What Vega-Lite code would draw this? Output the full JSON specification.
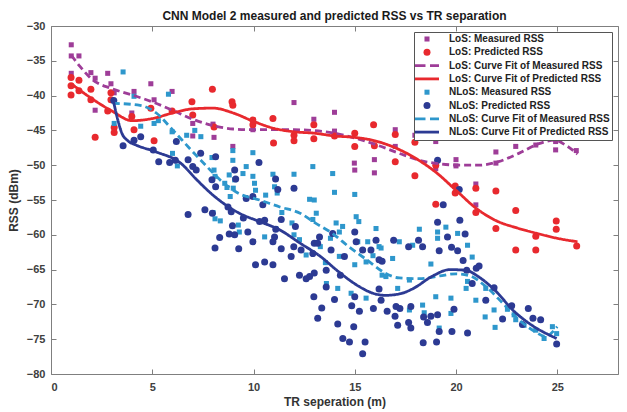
{
  "$schema": "https://vega.github.io/schema/vega-lite/v6.json",
  "width": 567,
  "height": 348,
  "autosize": {"type": "none"},
  "padding": {"left": 51, "top": 26, "right": 9, "bottom": 38},
  "background": "white",
  "title": {"text": "CNN Model 2 measured and predicted RSS vs TR separation", "font": "Liberation Sans", "fontSize": 12, "fontWeight": "bold", "color": "#1a1a1a", "offset": -3, "anchor": "middle"},
  "config": {
    "view": {"stroke": null},
    "axis": {"grid": false, "domainColor": "#7f7f7f", "tickColor": "#7f7f7f", "domainWidth": 1, "tickWidth": 1, "labelFont": "Liberation Sans", "labelFontSize": 11, "labelFontWeight": "bold", "labelColor": "#404040", "titleFont": "Liberation Sans", "titleFontSize": 12, "titleFontWeight": "bold", "titleColor": "#333333"}
  },
  "datasets": {
    "pts": [
      {"s":"LoS: Measured RSS","x":1.0,"y":-32.7},{"s":"LoS: Measured RSS","x":1.0,"y":-34.3},{"s":"LoS: Measured RSS","x":1.38,"y":-34.3},{"s":"LoS: Measured RSS","x":1.0,"y":-36.8},{"s":"LoS: Measured RSS","x":1.97,"y":-36.7},{"s":"LoS: Measured RSS","x":2.8,"y":-36.8},{"s":"LoS: Measured RSS","x":2.18,"y":-37.5},{"s":"LoS: Measured RSS","x":2.96,"y":-38.3},{"s":"LoS: Measured RSS","x":3.12,"y":-39.6},{"s":"LoS: Measured RSS","x":2.18,"y":-42.1},{"s":"LoS: Measured RSS","x":4.1,"y":-39.4},{"s":"LoS: Measured RSS","x":4.93,"y":-38.3},{"s":"LoS: Measured RSS","x":5.98,"y":-39.4},{"s":"LoS: Measured RSS","x":5.09,"y":-40.6},{"s":"LoS: Measured RSS","x":3.99,"y":-42.5},{"s":"LoS: Measured RSS","x":7.0,"y":-44.0},{"s":"LoS: Measured RSS","x":7.0,"y":-45.8},{"s":"LoS: Measured RSS","x":8.0,"y":-44.1},{"s":"LoS: Measured RSS","x":8.05,"y":-46.0},{"s":"LoS: Measured RSS","x":8.98,"y":-47.3},{"s":"LoS: Measured RSS","x":9.97,"y":-44.9},{"s":"LoS: Measured RSS","x":12.0,"y":-41.0},{"s":"LoS: Measured RSS","x":12.98,"y":-43.4},{"s":"LoS: Measured RSS","x":14.0,"y":-42.4},{"s":"LoS: Measured RSS","x":14.0,"y":-45.1},{"s":"LoS: Measured RSS","x":14.98,"y":-49.7},{"s":"LoS: Measured RSS","x":15.0,"y":-50.7},{"s":"LoS: Measured RSS","x":15.97,"y":-49.2},{"s":"LoS: Measured RSS","x":15.97,"y":-51.1},{"s":"LoS: Measured RSS","x":17.0,"y":-44.9},{"s":"LoS: Measured RSS","x":17.0,"y":-47.3},{"s":"LoS: Measured RSS","x":17.97,"y":-45.7},{"s":"LoS: Measured RSS","x":19.0,"y":-46.6},{"s":"LoS: Measured RSS","x":19.0,"y":-50.5},{"s":"LoS: Measured RSS","x":20.0,"y":-49.2},{"s":"LoS: Measured RSS","x":20.0,"y":-50.1},{"s":"LoS: Measured RSS","x":20.98,"y":-52.7},{"s":"LoS: Measured RSS","x":20.98,"y":-55.7},{"s":"LoS: Measured RSS","x":21.97,"y":-48.1},{"s":"LoS: Measured RSS","x":21.97,"y":-49.7},{"s":"LoS: Measured RSS","x":22.95,"y":-47.3},{"s":"LoS: Measured RSS","x":23.94,"y":-47.1},{"s":"LoS: Measured RSS","x":24.92,"y":-46.6},{"s":"LoS: Measured RSS","x":24.92,"y":-47.8},{"s":"LoS: Measured RSS","x":25.94,"y":-47.9},
      {"s":"LoS: Predicted RSS","x":0.99,"y":-37.4},{"s":"LoS: Predicted RSS","x":0.99,"y":-38.6},{"s":"LoS: Predicted RSS","x":0.99,"y":-39.9},{"s":"LoS: Predicted RSS","x":1.38,"y":-37.8},{"s":"LoS: Predicted RSS","x":1.38,"y":-39.3},{"s":"LoS: Predicted RSS","x":1.97,"y":-39.1},{"s":"LoS: Predicted RSS","x":1.97,"y":-40.6},{"s":"LoS: Predicted RSS","x":2.18,"y":-46.0},{"s":"LoS: Predicted RSS","x":2.96,"y":-39.6},{"s":"LoS: Predicted RSS","x":2.96,"y":-40.6},{"s":"LoS: Predicted RSS","x":2.8,"y":-42.2},{"s":"LoS: Predicted RSS","x":3.12,"y":-44.6},{"s":"LoS: Predicted RSS","x":3.12,"y":-45.3},{"s":"LoS: Predicted RSS","x":3.99,"y":-43.0},{"s":"LoS: Predicted RSS","x":4.1,"y":-44.9},{"s":"LoS: Predicted RSS","x":4.93,"y":-41.8},{"s":"LoS: Predicted RSS","x":5.09,"y":-46.5},{"s":"LoS: Predicted RSS","x":5.98,"y":-42.2},{"s":"LoS: Predicted RSS","x":6.96,"y":-40.9},{"s":"LoS: Predicted RSS","x":7.0,"y":-42.8},{"s":"LoS: Predicted RSS","x":7.97,"y":-39.1},{"s":"LoS: Predicted RSS","x":8.05,"y":-44.5},{"s":"LoS: Predicted RSS","x":8.94,"y":-40.9},{"s":"LoS: Predicted RSS","x":8.98,"y":-41.4},{"s":"LoS: Predicted RSS","x":9.97,"y":-43.5},{"s":"LoS: Predicted RSS","x":9.97,"y":-44.2},{"s":"LoS: Predicted RSS","x":10.96,"y":-43.3},{"s":"LoS: Predicted RSS","x":10.99,"y":-46.8},{"s":"LoS: Predicted RSS","x":12.0,"y":-45.7},{"s":"LoS: Predicted RSS","x":12.0,"y":-46.5},{"s":"LoS: Predicted RSS","x":12.98,"y":-44.2},{"s":"LoS: Predicted RSS","x":12.98,"y":-46.2},{"s":"LoS: Predicted RSS","x":14.0,"y":-45.8},{"s":"LoS: Predicted RSS","x":15.0,"y":-45.4},{"s":"LoS: Predicted RSS","x":15.0,"y":-47.3},{"s":"LoS: Predicted RSS","x":15.93,"y":-44.2},{"s":"LoS: Predicted RSS","x":15.97,"y":-47.2},{"s":"LoS: Predicted RSS","x":17.0,"y":-45.6},{"s":"LoS: Predicted RSS","x":17.0,"y":-49.5},{"s":"LoS: Predicted RSS","x":17.97,"y":-46.7},{"s":"LoS: Predicted RSS","x":17.97,"y":-51.5},{"s":"LoS: Predicted RSS","x":19.0,"y":-50.0},{"s":"LoS: Predicted RSS","x":19.0,"y":-55.6},{"s":"LoS: Predicted RSS","x":19.96,"y":-53.0},{"s":"LoS: Predicted RSS","x":19.96,"y":-54.0},{"s":"LoS: Predicted RSS","x":20.98,"y":-53.3},{"s":"LoS: Predicted RSS","x":20.98,"y":-56.8},{"s":"LoS: Predicted RSS","x":21.97,"y":-53.7},{"s":"LoS: Predicted RSS","x":21.97,"y":-59.1},{"s":"LoS: Predicted RSS","x":22.95,"y":-56.5},{"s":"LoS: Predicted RSS","x":22.95,"y":-62.2},{"s":"LoS: Predicted RSS","x":23.94,"y":-60.2},{"s":"LoS: Predicted RSS","x":23.94,"y":-62.2},{"s":"LoS: Predicted RSS","x":24.95,"y":-58.0},{"s":"LoS: Predicted RSS","x":24.95,"y":-59.2},{"s":"LoS: Predicted RSS","x":25.96,"y":-61.6},
      {"s":"NLoS: Measured RSS","x":3.56,"y":-36.6},{"s":"NLoS: Measured RSS","x":4.1,"y":-40.1},{"s":"NLoS: Measured RSS","x":3.12,"y":-44.0},{"s":"NLoS: Measured RSS","x":4.43,"y":-44.4},{"s":"NLoS: Measured RSS","x":5.09,"y":-44.0},{"s":"NLoS: Measured RSS","x":5.3,"y":-43.6},{"s":"NLoS: Measured RSS","x":5.8,"y":-39.8},{"s":"NLoS: Measured RSS","x":5.98,"y":-45.2},{"s":"NLoS: Measured RSS","x":6.7,"y":-45.7},{"s":"NLoS: Measured RSS","x":7.1,"y":-45.0},{"s":"NLoS: Measured RSS","x":7.4,"y":-45.9},{"s":"NLoS: Measured RSS","x":6.0,"y":-48.3},{"s":"NLoS: Measured RSS","x":6.24,"y":-50.1},{"s":"NLoS: Measured RSS","x":7.95,"y":-48.9},{"s":"NLoS: Measured RSS","x":8.05,"y":-50.7},{"s":"NLoS: Measured RSS","x":8.98,"y":-49.3},{"s":"NLoS: Measured RSS","x":8.1,"y":-51.6},{"s":"NLoS: Measured RSS","x":8.8,"y":-51.4},{"s":"NLoS: Measured RSS","x":9.07,"y":-52.1},{"s":"NLoS: Measured RSS","x":8.69,"y":-53.2},{"s":"NLoS: Measured RSS","x":9.0,"y":-53.3},{"s":"NLoS: Measured RSS","x":8.85,"y":-54.5},{"s":"NLoS: Measured RSS","x":8.98,"y":-47.9},{"s":"NLoS: Measured RSS","x":9.97,"y":-48.2},{"s":"NLoS: Measured RSS","x":9.64,"y":-50.2},{"s":"NLoS: Measured RSS","x":9.48,"y":-51.2},{"s":"NLoS: Measured RSS","x":9.97,"y":-51.6},{"s":"NLoS: Measured RSS","x":10.05,"y":-52.6},{"s":"NLoS: Measured RSS","x":10.96,"y":-51.3},{"s":"NLoS: Measured RSS","x":11.04,"y":-53.1},{"s":"NLoS: Measured RSS","x":12.0,"y":-51.3},{"s":"NLoS: Measured RSS","x":12.93,"y":-50.2},{"s":"NLoS: Measured RSS","x":13.91,"y":-51.2},{"s":"NLoS: Measured RSS","x":14.0,"y":-53.9},{"s":"NLoS: Measured RSS","x":15.0,"y":-54.2},{"s":"NLoS: Measured RSS","x":8.58,"y":-52.6},{"s":"NLoS: Measured RSS","x":8.0,"y":-56.8},{"s":"NLoS: Measured RSS","x":8.1,"y":-57.7},{"s":"NLoS: Measured RSS","x":8.36,"y":-58.0},{"s":"NLoS: Measured RSS","x":9.25,"y":-58.6},{"s":"NLoS: Measured RSS","x":10.1,"y":-53.6},{"s":"NLoS: Measured RSS","x":10.6,"y":-54.3},{"s":"NLoS: Measured RSS","x":11.17,"y":-54.0},{"s":"NLoS: Measured RSS","x":9.3,"y":-59.6},{"s":"NLoS: Measured RSS","x":9.5,"y":-57.6},{"s":"NLoS: Measured RSS","x":10.55,"y":-60.3},{"s":"NLoS: Measured RSS","x":11.1,"y":-59.1},{"s":"NLoS: Measured RSS","x":11.4,"y":-56.8},{"s":"NLoS: Measured RSS","x":11.9,"y":-58.3},{"s":"NLoS: Measured RSS","x":12.27,"y":-60.7},{"s":"NLoS: Measured RSS","x":12.0,"y":-60.0},{"s":"NLoS: Measured RSS","x":12.6,"y":-62.9},{"s":"NLoS: Measured RSS","x":12.77,"y":-54.9},{"s":"NLoS: Measured RSS","x":13.0,"y":-55.0},{"s":"NLoS: Measured RSS","x":13.1,"y":-56.9},{"s":"NLoS: Measured RSS","x":12.93,"y":-57.8},{"s":"NLoS: Measured RSS","x":13.3,"y":-61.7},{"s":"NLoS: Measured RSS","x":13.55,"y":-64.0},{"s":"NLoS: Measured RSS","x":13.6,"y":-67.0},{"s":"NLoS: Measured RSS","x":14.08,"y":-58.3},{"s":"NLoS: Measured RSS","x":14.24,"y":-59.6},{"s":"NLoS: Measured RSS","x":14.4,"y":-58.8},{"s":"NLoS: Measured RSS","x":15.07,"y":-57.4},{"s":"NLoS: Measured RSS","x":15.2,"y":-58.1},{"s":"NLoS: Measured RSS","x":13.8,"y":-60.5},{"s":"NLoS: Measured RSS","x":14.24,"y":-63.1},{"s":"NLoS: Measured RSS","x":15.0,"y":-64.3},{"s":"NLoS: Measured RSS","x":15.15,"y":-61.0},{"s":"NLoS: Measured RSS","x":15.56,"y":-63.9},{"s":"NLoS: Measured RSS","x":15.64,"y":-61.0},{"s":"NLoS: Measured RSS","x":16.05,"y":-59.1},{"s":"NLoS: Measured RSS","x":16.3,"y":-61.9},{"s":"NLoS: Measured RSS","x":16.35,"y":-65.8},{"s":"NLoS: Measured RSS","x":15.9,"y":-63.0},{"s":"NLoS: Measured RSS","x":16.87,"y":-63.4},{"s":"NLoS: Measured RSS","x":16.54,"y":-66.0},{"s":"NLoS: Measured RSS","x":14.16,"y":-67.7},{"s":"NLoS: Measured RSS","x":14.82,"y":-68.4},{"s":"NLoS: Measured RSS","x":15.56,"y":-69.1},{"s":"NLoS: Measured RSS","x":17.2,"y":-61.0},{"s":"NLoS: Measured RSS","x":18.19,"y":-59.2},{"s":"NLoS: Measured RSS","x":19.09,"y":-59.6},{"s":"NLoS: Measured RSS","x":19.5,"y":-58.9},{"s":"NLoS: Measured RSS","x":19.09,"y":-60.5},{"s":"NLoS: Measured RSS","x":20.08,"y":-59.8},{"s":"NLoS: Measured RSS","x":20.57,"y":-61.5},{"s":"NLoS: Measured RSS","x":17.86,"y":-61.5},{"s":"NLoS: Measured RSS","x":18.76,"y":-64.2},{"s":"NLoS: Measured RSS","x":20.8,"y":-63.2},{"s":"NLoS: Measured RSS","x":16.2,"y":-61.7},{"s":"NLoS: Measured RSS","x":17.12,"y":-67.7},{"s":"NLoS: Measured RSS","x":17.7,"y":-66.5},{"s":"NLoS: Measured RSS","x":17.7,"y":-70.8},{"s":"NLoS: Measured RSS","x":18.35,"y":-70.1},{"s":"NLoS: Measured RSS","x":18.43,"y":-71.2},{"s":"NLoS: Measured RSS","x":19.0,"y":-68.9},{"s":"NLoS: Measured RSS","x":19.75,"y":-69.1},{"s":"NLoS: Measured RSS","x":19.75,"y":-71.3},{"s":"NLoS: Measured RSS","x":19.17,"y":-73.4},{"s":"NLoS: Measured RSS","x":20.57,"y":-66.7},{"s":"NLoS: Measured RSS","x":20.5,"y":-67.7},{"s":"NLoS: Measured RSS","x":20.98,"y":-69.4},{"s":"NLoS: Measured RSS","x":21.44,"y":-71.8},{"s":"NLoS: Measured RSS","x":21.93,"y":-73.3},{"s":"NLoS: Measured RSS","x":21.88,"y":-70.8},{"s":"NLoS: Measured RSS","x":22.54,"y":-70.7},{"s":"NLoS: Measured RSS","x":22.87,"y":-71.5},{"s":"NLoS: Measured RSS","x":22.95,"y":-72.2},{"s":"NLoS: Measured RSS","x":23.36,"y":-73.0},{"s":"NLoS: Measured RSS","x":23.94,"y":-73.7},{"s":"NLoS: Measured RSS","x":24.35,"y":-74.9},{"s":"NLoS: Measured RSS","x":24.76,"y":-73.2},{"s":"NLoS: Measured RSS","x":24.97,"y":-74.2},{"s":"NLoS: Measured RSS","x":21.47,"y":-67.7},
      {"s":"NLoS: Predicted RSS","x":3.1,"y":-40.7},{"s":"NLoS: Predicted RSS","x":3.56,"y":-47.2},{"s":"NLoS: Predicted RSS","x":4.1,"y":-46.4},{"s":"NLoS: Predicted RSS","x":4.43,"y":-45.9},{"s":"NLoS: Predicted RSS","x":5.05,"y":-47.8},{"s":"NLoS: Predicted RSS","x":5.32,"y":-49.5},{"s":"NLoS: Predicted RSS","x":5.86,"y":-49.6},{"s":"NLoS: Predicted RSS","x":6.19,"y":-46.6},{"s":"NLoS: Predicted RSS","x":6.14,"y":-49.3},{"s":"NLoS: Predicted RSS","x":6.77,"y":-49.2},{"s":"NLoS: Predicted RSS","x":7.0,"y":-50.2},{"s":"NLoS: Predicted RSS","x":7.39,"y":-48.3},{"s":"NLoS: Predicted RSS","x":7.17,"y":-50.7},{"s":"NLoS: Predicted RSS","x":7.95,"y":-52.1},{"s":"NLoS: Predicted RSS","x":8.13,"y":-48.8},{"s":"NLoS: Predicted RSS","x":8.13,"y":-53.1},{"s":"NLoS: Predicted RSS","x":9.07,"y":-50.7},{"s":"NLoS: Predicted RSS","x":9.12,"y":-52.0},{"s":"NLoS: Predicted RSS","x":10.27,"y":-49.6},{"s":"NLoS: Predicted RSS","x":11.09,"y":-52.0},{"s":"NLoS: Predicted RSS","x":11.2,"y":-53.5},{"s":"NLoS: Predicted RSS","x":12.0,"y":-53.3},{"s":"NLoS: Predicted RSS","x":6.77,"y":-57.1},{"s":"NLoS: Predicted RSS","x":7.6,"y":-56.4},{"s":"NLoS: Predicted RSS","x":7.97,"y":-56.9},{"s":"NLoS: Predicted RSS","x":8.33,"y":-60.4},{"s":"NLoS: Predicted RSS","x":8.1,"y":-61.9},{"s":"NLoS: Predicted RSS","x":8.8,"y":-59.9},{"s":"NLoS: Predicted RSS","x":9.07,"y":-60.0},{"s":"NLoS: Predicted RSS","x":8.96,"y":-58.7},{"s":"NLoS: Predicted RSS","x":8.74,"y":-56.0},{"s":"NLoS: Predicted RSS","x":8.9,"y":-56.7},{"s":"NLoS: Predicted RSS","x":9.27,"y":-62.0},{"s":"NLoS: Predicted RSS","x":9.5,"y":-57.6},{"s":"NLoS: Predicted RSS","x":9.64,"y":-54.8},{"s":"NLoS: Predicted RSS","x":9.72,"y":-59.6},{"s":"NLoS: Predicted RSS","x":9.97,"y":-61.0},{"s":"NLoS: Predicted RSS","x":10.1,"y":-64.3},{"s":"NLoS: Predicted RSS","x":9.97,"y":-54.5},{"s":"NLoS: Predicted RSS","x":10.3,"y":-58.1},{"s":"NLoS: Predicted RSS","x":10.55,"y":-57.9},{"s":"NLoS: Predicted RSS","x":10.46,"y":-55.7},{"s":"NLoS: Predicted RSS","x":10.55,"y":-63.9},{"s":"NLoS: Predicted RSS","x":10.96,"y":-64.3},{"s":"NLoS: Predicted RSS","x":10.96,"y":-61.0},{"s":"NLoS: Predicted RSS","x":11.04,"y":-60.3},{"s":"NLoS: Predicted RSS","x":11.1,"y":-59.2},{"s":"NLoS: Predicted RSS","x":11.37,"y":-57.8},{"s":"NLoS: Predicted RSS","x":11.37,"y":-62.0},{"s":"NLoS: Predicted RSS","x":11.53,"y":-66.3},{"s":"NLoS: Predicted RSS","x":11.86,"y":-63.1},{"s":"NLoS: Predicted RSS","x":11.99,"y":-61.7},{"s":"NLoS: Predicted RSS","x":12.07,"y":-58.8},{"s":"NLoS: Predicted RSS","x":12.27,"y":-65.8},{"s":"NLoS: Predicted RSS","x":12.35,"y":-62.2},{"s":"NLoS: Predicted RSS","x":12.6,"y":-66.3},{"s":"NLoS: Predicted RSS","x":12.77,"y":-66.0},{"s":"NLoS: Predicted RSS","x":13.0,"y":-65.5},{"s":"NLoS: Predicted RSS","x":13.0,"y":-61.2},{"s":"NLoS: Predicted RSS","x":13.17,"y":-61.2},{"s":"NLoS: Predicted RSS","x":12.93,"y":-62.7},{"s":"NLoS: Predicted RSS","x":13.26,"y":-60.3},{"s":"NLoS: Predicted RSS","x":12.98,"y":-68.9},{"s":"NLoS: Predicted RSS","x":13.17,"y":-72.0},{"s":"NLoS: Predicted RSS","x":13.37,"y":-70.5},{"s":"NLoS: Predicted RSS","x":13.59,"y":-65.1},{"s":"NLoS: Predicted RSS","x":13.59,"y":-67.5},{"s":"NLoS: Predicted RSS","x":13.83,"y":-62.2},{"s":"NLoS: Predicted RSS","x":13.91,"y":-59.8},{"s":"NLoS: Predicted RSS","x":14.0,"y":-69.3},{"s":"NLoS: Predicted RSS","x":14.16,"y":-72.8},{"s":"NLoS: Predicted RSS","x":14.29,"y":-65.8},{"s":"NLoS: Predicted RSS","x":14.41,"y":-74.9},{"s":"NLoS: Predicted RSS","x":14.49,"y":-63.1},{"s":"NLoS: Predicted RSS","x":14.74,"y":-75.4},{"s":"NLoS: Predicted RSS","x":14.85,"y":-70.2},{"s":"NLoS: Predicted RSS","x":14.95,"y":-73.2},{"s":"NLoS: Predicted RSS","x":15.0,"y":-68.9},{"s":"NLoS: Predicted RSS","x":15.0,"y":-59.6},{"s":"NLoS: Predicted RSS","x":15.07,"y":-61.0},{"s":"NLoS: Predicted RSS","x":15.23,"y":-71.0},{"s":"NLoS: Predicted RSS","x":15.39,"y":-77.1},{"s":"NLoS: Predicted RSS","x":15.51,"y":-75.4},{"s":"NLoS: Predicted RSS","x":15.39,"y":-62.2},{"s":"NLoS: Predicted RSS","x":15.8,"y":-62.2},{"s":"NLoS: Predicted RSS","x":15.92,"y":-70.6},{"s":"NLoS: Predicted RSS","x":16.05,"y":-60.8},{"s":"NLoS: Predicted RSS","x":16.2,"y":-67.8},{"s":"NLoS: Predicted RSS","x":16.35,"y":-63.8},{"s":"NLoS: Predicted RSS","x":16.3,"y":-69.4},{"s":"NLoS: Predicted RSS","x":16.6,"y":-71.0},{"s":"NLoS: Predicted RSS","x":16.92,"y":-60.8},{"s":"NLoS: Predicted RSS","x":16.99,"y":-71.7},{"s":"NLoS: Predicted RSS","x":17.12,"y":-73.0},{"s":"NLoS: Predicted RSS","x":17.04,"y":-70.3},{"s":"NLoS: Predicted RSS","x":17.66,"y":-61.7},{"s":"NLoS: Predicted RSS","x":18.15,"y":-60.8},{"s":"NLoS: Predicted RSS","x":18.35,"y":-61.7},{"s":"NLoS: Predicted RSS","x":19.09,"y":-58.2},{"s":"NLoS: Predicted RSS","x":20.19,"y":-57.9},{"s":"NLoS: Predicted RSS","x":19.58,"y":-60.3},{"s":"NLoS: Predicted RSS","x":20.45,"y":-59.9},{"s":"NLoS: Predicted RSS","x":19.17,"y":-62.3},{"s":"NLoS: Predicted RSS","x":19.78,"y":-61.8},{"s":"NLoS: Predicted RSS","x":20.08,"y":-62.3},{"s":"NLoS: Predicted RSS","x":20.35,"y":-63.7},{"s":"NLoS: Predicted RSS","x":21.0,"y":-64.8},{"s":"NLoS: Predicted RSS","x":21.14,"y":-64.5},{"s":"NLoS: Predicted RSS","x":20.53,"y":-65.1},{"s":"NLoS: Predicted RSS","x":20.8,"y":-67.0},{"s":"NLoS: Predicted RSS","x":21.88,"y":-67.6},{"s":"NLoS: Predicted RSS","x":21.47,"y":-69.4},{"s":"NLoS: Predicted RSS","x":16.2,"y":-63.6},{"s":"NLoS: Predicted RSS","x":17.23,"y":-70.6},{"s":"NLoS: Predicted RSS","x":17.77,"y":-70.3},{"s":"NLoS: Predicted RSS","x":17.66,"y":-72.6},{"s":"NLoS: Predicted RSS","x":17.77,"y":-73.4},{"s":"NLoS: Predicted RSS","x":18.4,"y":-71.8},{"s":"NLoS: Predicted RSS","x":18.59,"y":-72.6},{"s":"NLoS: Predicted RSS","x":18.76,"y":-71.7},{"s":"NLoS: Predicted RSS","x":19.09,"y":-71.5},{"s":"NLoS: Predicted RSS","x":18.38,"y":-75.5},{"s":"NLoS: Predicted RSS","x":19.04,"y":-75.4},{"s":"NLoS: Predicted RSS","x":19.17,"y":-73.9},{"s":"NLoS: Predicted RSS","x":19.8,"y":-73.9},{"s":"NLoS: Predicted RSS","x":19.9,"y":-70.7},{"s":"NLoS: Predicted RSS","x":20.57,"y":-74.1},{"s":"NLoS: Predicted RSS","x":22.3,"y":-72.1},{"s":"NLoS: Predicted RSS","x":22.75,"y":-70.2},{"s":"NLoS: Predicted RSS","x":23.28,"y":-72.9},{"s":"NLoS: Predicted RSS","x":23.57,"y":-70.6},{"s":"NLoS: Predicted RSS","x":23.8,"y":-72.0},{"s":"NLoS: Predicted RSS","x":24.18,"y":-72.2},{"s":"NLoS: Predicted RSS","x":24.97,"y":-75.7},{"s":"NLoS: Predicted RSS","x":19.09,"y":-49.3},{"s":"NLoS: Predicted RSS","x":20.16,"y":-53.5},{"s":"NLoS: Predicted RSS","x":19.37,"y":-55.7}
    ],
    "fits": [
      {"s":"LoS: Curve Fit of Measured RSS","x":1.0,"y":-34.2},{"s":"LoS: Curve Fit of Measured RSS","x":1.43,"y":-35.8},{"s":"LoS: Curve Fit of Measured RSS","x":2.0,"y":-37.6},{"s":"LoS: Curve Fit of Measured RSS","x":3.0,"y":-39.0},{"s":"LoS: Curve Fit of Measured RSS","x":4.0,"y":-39.9},{"s":"LoS: Curve Fit of Measured RSS","x":5.0,"y":-40.9},{"s":"LoS: Curve Fit of Measured RSS","x":6.0,"y":-42.1},{"s":"LoS: Curve Fit of Measured RSS","x":7.0,"y":-43.4},{"s":"LoS: Curve Fit of Measured RSS","x":8.0,"y":-44.3},{"s":"LoS: Curve Fit of Measured RSS","x":9.0,"y":-44.8},{"s":"LoS: Curve Fit of Measured RSS","x":10.0,"y":-44.9},{"s":"LoS: Curve Fit of Measured RSS","x":12.0,"y":-44.9},{"s":"LoS: Curve Fit of Measured RSS","x":14.0,"y":-45.4},{"s":"LoS: Curve Fit of Measured RSS","x":15.0,"y":-46.1},{"s":"LoS: Curve Fit of Measured RSS","x":16.0,"y":-47.0},{"s":"LoS: Curve Fit of Measured RSS","x":17.2,"y":-48.3},{"s":"LoS: Curve Fit of Measured RSS","x":18.2,"y":-49.3},{"s":"LoS: Curve Fit of Measured RSS","x":19.2,"y":-49.8},{"s":"LoS: Curve Fit of Measured RSS","x":20.2,"y":-50.0},{"s":"LoS: Curve Fit of Measured RSS","x":21.1,"y":-50.0},{"s":"LoS: Curve Fit of Measured RSS","x":22.1,"y":-49.5},{"s":"LoS: Curve Fit of Measured RSS","x":23.1,"y":-48.3},{"s":"LoS: Curve Fit of Measured RSS","x":24.1,"y":-46.9},{"s":"LoS: Curve Fit of Measured RSS","x":24.9,"y":-46.4},{"s":"LoS: Curve Fit of Measured RSS","x":25.4,"y":-47.1},{"s":"LoS: Curve Fit of Measured RSS","x":26.0,"y":-48.4},
      {"s":"LoS: Curve Fit of Predicted RSS","x":1.0,"y":-38.3},{"s":"LoS: Curve Fit of Predicted RSS","x":2.0,"y":-40.4},{"s":"LoS: Curve Fit of Predicted RSS","x":3.0,"y":-42.2},{"s":"LoS: Curve Fit of Predicted RSS","x":4.0,"y":-43.6},{"s":"LoS: Curve Fit of Predicted RSS","x":5.0,"y":-43.3},{"s":"LoS: Curve Fit of Predicted RSS","x":6.0,"y":-42.5},{"s":"LoS: Curve Fit of Predicted RSS","x":7.0,"y":-41.9},{"s":"LoS: Curve Fit of Predicted RSS","x":8.0,"y":-41.8},{"s":"LoS: Curve Fit of Predicted RSS","x":9.0,"y":-42.5},{"s":"LoS: Curve Fit of Predicted RSS","x":10.0,"y":-43.7},{"s":"LoS: Curve Fit of Predicted RSS","x":11.0,"y":-44.7},{"s":"LoS: Curve Fit of Predicted RSS","x":12.0,"y":-45.2},{"s":"LoS: Curve Fit of Predicted RSS","x":13.0,"y":-45.4},{"s":"LoS: Curve Fit of Predicted RSS","x":14.0,"y":-45.8},{"s":"LoS: Curve Fit of Predicted RSS","x":15.0,"y":-46.0},{"s":"LoS: Curve Fit of Predicted RSS","x":16.0,"y":-46.5},{"s":"LoS: Curve Fit of Predicted RSS","x":17.0,"y":-47.5},{"s":"LoS: Curve Fit of Predicted RSS","x":18.0,"y":-49.0},{"s":"LoS: Curve Fit of Predicted RSS","x":19.0,"y":-51.0},{"s":"LoS: Curve Fit of Predicted RSS","x":20.0,"y":-53.6},{"s":"LoS: Curve Fit of Predicted RSS","x":21.0,"y":-56.2},{"s":"LoS: Curve Fit of Predicted RSS","x":22.0,"y":-58.0},{"s":"LoS: Curve Fit of Predicted RSS","x":23.0,"y":-59.0},{"s":"LoS: Curve Fit of Predicted RSS","x":24.0,"y":-59.8},{"s":"LoS: Curve Fit of Predicted RSS","x":25.0,"y":-60.5},{"s":"LoS: Curve Fit of Predicted RSS","x":26.0,"y":-61.0},
      {"s":"NLoS: Curve Fit of Measured RSS","x":3.05,"y":-41.1},{"s":"NLoS: Curve Fit of Measured RSS","x":4.4,"y":-41.4},{"s":"NLoS: Curve Fit of Measured RSS","x":5.2,"y":-42.5},{"s":"NLoS: Curve Fit of Measured RSS","x":6.0,"y":-44.9},{"s":"NLoS: Curve Fit of Measured RSS","x":6.85,"y":-47.6},{"s":"NLoS: Curve Fit of Measured RSS","x":7.7,"y":-50.2},{"s":"NLoS: Curve Fit of Measured RSS","x":8.5,"y":-52.5},{"s":"NLoS: Curve Fit of Measured RSS","x":9.3,"y":-54.1},{"s":"NLoS: Curve Fit of Measured RSS","x":10.3,"y":-55.0},{"s":"NLoS: Curve Fit of Measured RSS","x":11.3,"y":-56.0},{"s":"NLoS: Curve Fit of Measured RSS","x":12.3,"y":-56.9},{"s":"NLoS: Curve Fit of Measured RSS","x":13.1,"y":-58.4},{"s":"NLoS: Curve Fit of Measured RSS","x":13.9,"y":-59.8},{"s":"NLoS: Curve Fit of Measured RSS","x":14.7,"y":-61.7},{"s":"NLoS: Curve Fit of Measured RSS","x":15.6,"y":-63.6},{"s":"NLoS: Curve Fit of Measured RSS","x":16.5,"y":-65.5},{"s":"NLoS: Curve Fit of Measured RSS","x":17.2,"y":-66.2},{"s":"NLoS: Curve Fit of Measured RSS","x":18.2,"y":-66.3},{"s":"NLoS: Curve Fit of Measured RSS","x":19.2,"y":-65.9},{"s":"NLoS: Curve Fit of Measured RSS","x":20.0,"y":-65.6},{"s":"NLoS: Curve Fit of Measured RSS","x":20.7,"y":-65.9},{"s":"NLoS: Curve Fit of Measured RSS","x":21.5,"y":-67.5},{"s":"NLoS: Curve Fit of Measured RSS","x":22.3,"y":-69.8},{"s":"NLoS: Curve Fit of Measured RSS","x":23.1,"y":-72.2},{"s":"NLoS: Curve Fit of Measured RSS","x":23.9,"y":-73.9},{"s":"NLoS: Curve Fit of Measured RSS","x":24.4,"y":-74.6},{"s":"NLoS: Curve Fit of Measured RSS","x":25.0,"y":-73.2},
      {"s":"NLoS: Curve Fit of Predicted RSS","x":3.07,"y":-40.6},{"s":"NLoS: Curve Fit of Predicted RSS","x":3.3,"y":-43.5},{"s":"NLoS: Curve Fit of Predicted RSS","x":3.5,"y":-45.4},{"s":"NLoS: Curve Fit of Predicted RSS","x":3.8,"y":-46.5},{"s":"NLoS: Curve Fit of Predicted RSS","x":4.2,"y":-47.1},{"s":"NLoS: Curve Fit of Predicted RSS","x":5.2,"y":-48.1},{"s":"NLoS: Curve Fit of Predicted RSS","x":6.4,"y":-49.7},{"s":"NLoS: Curve Fit of Predicted RSS","x":7.2,"y":-52.1},{"s":"NLoS: Curve Fit of Predicted RSS","x":8.0,"y":-54.3},{"s":"NLoS: Curve Fit of Predicted RSS","x":9.3,"y":-56.9},{"s":"NLoS: Curve Fit of Predicted RSS","x":10.3,"y":-58.1},{"s":"NLoS: Curve Fit of Predicted RSS","x":11.3,"y":-59.3},{"s":"NLoS: Curve Fit of Predicted RSS","x":12.3,"y":-61.2},{"s":"NLoS: Curve Fit of Predicted RSS","x":13.3,"y":-63.1},{"s":"NLoS: Curve Fit of Predicted RSS","x":14.2,"y":-65.3},{"s":"NLoS: Curve Fit of Predicted RSS","x":15.2,"y":-67.4},{"s":"NLoS: Curve Fit of Predicted RSS","x":15.9,"y":-68.4},{"s":"NLoS: Curve Fit of Predicted RSS","x":16.5,"y":-68.7},{"s":"NLoS: Curve Fit of Predicted RSS","x":17.2,"y":-68.5},{"s":"NLoS: Curve Fit of Predicted RSS","x":17.9,"y":-67.7},{"s":"NLoS: Curve Fit of Predicted RSS","x":18.8,"y":-66.0},{"s":"NLoS: Curve Fit of Predicted RSS","x":19.7,"y":-65.0},{"s":"NLoS: Curve Fit of Predicted RSS","x":20.5,"y":-65.1},{"s":"NLoS: Curve Fit of Predicted RSS","x":21.1,"y":-66.0},{"s":"NLoS: Curve Fit of Predicted RSS","x":22.0,"y":-68.2},{"s":"NLoS: Curve Fit of Predicted RSS","x":22.8,"y":-70.8},{"s":"NLoS: Curve Fit of Predicted RSS","x":23.6,"y":-72.7},{"s":"NLoS: Curve Fit of Predicted RSS","x":24.97,"y":-74.9}
    ]
  },
  "layer": [
    {
      "data": {"name": "pts"},
      "mark": {"type": "point", "filled": true, "size": 49, "opacity": 1, "strokeWidth": 0},
      "encoding": {
        "x": {"field": "x", "type": "quantitative", "scale": {"domain": [0, 28], "nice": false, "zero": false},
              "axis": {"orient": "bottom", "values": [0, 5, 10, 15, 20, 25], "title": "TR seperation (m)", "tickSize": -5, "labelPadding": 12, "titlePadding": 4}},
        "y": {"field": "y", "type": "quantitative", "scale": {"domain": [-80, -30], "nice": false, "zero": false},
              "axis": {"orient": "left", "values": [-80, -75, -70, -65, -60, -55, -50, -45, -40, -35, -30], "title": "RSS (dBm)", "tickSize": -5, "labelPadding": 11, "titlePadding": 6}},
        "color": {"field": "s", "type": "nominal",
          "scale": {"domain": ["LoS: Measured RSS", "LoS: Predicted RSS", "LoS: Curve Fit of Measured RSS", "LoS: Curve Fit of Predicted RSS", "NLoS: Measured RSS", "NLoS: Predicted RSS", "NLoS: Curve Fit of Measured RSS", "NLoS: Curve Fit of Predicted RSS"],
                    "range": ["#9e3d98", "#e8292e", "#9e3d98", "#e8292e", "#2e97cc", "#2c3a93", "#2e97cc", "#2c3a93"]},
          "legend": {"title": null, "orient": "top-right", "offset": 6, "padding": 2, "strokeColor": "#555555", "fillColor": "#ffffff", "labelFont": "Liberation Sans", "labelFontSize": 10, "labelFontWeight": "bold", "labelColor": "#222222", "labelLimit": 300, "symbolSize": 49, "symbolStrokeWidth": 0, "symbolOffset": 6, "labelOffset": 17, "rowPadding": 3.3}
        },
        "shape": {"field": "s", "type": "nominal",
          "scale": {"domain": ["LoS: Measured RSS", "LoS: Predicted RSS", "LoS: Curve Fit of Measured RSS", "LoS: Curve Fit of Predicted RSS", "NLoS: Measured RSS", "NLoS: Predicted RSS", "NLoS: Curve Fit of Measured RSS", "NLoS: Curve Fit of Predicted RSS"],
                    "range": ["M-0.72,-0.72H0.72V0.72H-0.72Z", "circle", "M-3.43,-0.4H-0.43V0.4H-3.43Z M0.86,-0.4H3.43V0.4H0.86Z", "M-3.43,-0.4H3.43V0.4H-3.43Z", "M-0.72,-0.72H0.72V0.72H-0.72Z", "circle", "M-3.43,-0.4H-0.43V0.4H-3.43Z M0.86,-0.4H3.43V0.4H0.86Z", "M-3.43,-0.4H3.43V0.4H-3.43Z"]},
          "legend": {"title": null, "orient": "top-right", "offset": 6, "padding": 2, "strokeColor": "#555555", "fillColor": "#ffffff", "labelFont": "Liberation Sans", "labelFontSize": 10, "labelFontWeight": "bold", "labelColor": "#222222", "labelLimit": 300, "symbolSize": 49, "symbolStrokeWidth": 0, "symbolOffset": 6, "labelOffset": 17, "rowPadding": 3.3}
        }
      }
    },
    {
      "data": {"name": "fits"},
      "mark": {"type": "line", "interpolate": "monotone", "strokeWidth": 2.8},
      "encoding": {
        "x": {"field": "x", "type": "quantitative", "scale": {"domain": [0, 28], "nice": false, "zero": false},
              "axis": {"orient": "top", "values": [0, 5, 10, 15, 20, 25], "labels": false, "title": null, "tickSize": -5}},
        "y": {"field": "y", "type": "quantitative", "scale": {"domain": [-80, -30], "nice": false, "zero": false},
              "axis": {"orient": "right", "values": [-80, -75, -70, -65, -60, -55, -50, -45, -40, -35, -30], "labels": false, "title": null, "tickSize": -5}},
        "color": {"field": "s", "type": "nominal",
          "scale": {"domain": ["LoS: Measured RSS", "LoS: Predicted RSS", "LoS: Curve Fit of Measured RSS", "LoS: Curve Fit of Predicted RSS", "NLoS: Measured RSS", "NLoS: Predicted RSS", "NLoS: Curve Fit of Measured RSS", "NLoS: Curve Fit of Predicted RSS"],
                    "range": ["#9e3d98", "#e8292e", "#9e3d98", "#e8292e", "#2e97cc", "#2c3a93", "#2e97cc", "#2c3a93"]},
          "legend": null},
        "strokeDash": {"field": "s", "type": "nominal",
          "scale": {"domain": ["LoS: Curve Fit of Measured RSS", "LoS: Curve Fit of Predicted RSS", "NLoS: Curve Fit of Measured RSS", "NLoS: Curve Fit of Predicted RSS"],
                    "range": [[7, 4], [1, 0], [7, 4], [1, 0]]},
          "legend": null}
      }
    }
  ],
  "resolve": {"axis": {"x": "independent", "y": "independent"}}
}
